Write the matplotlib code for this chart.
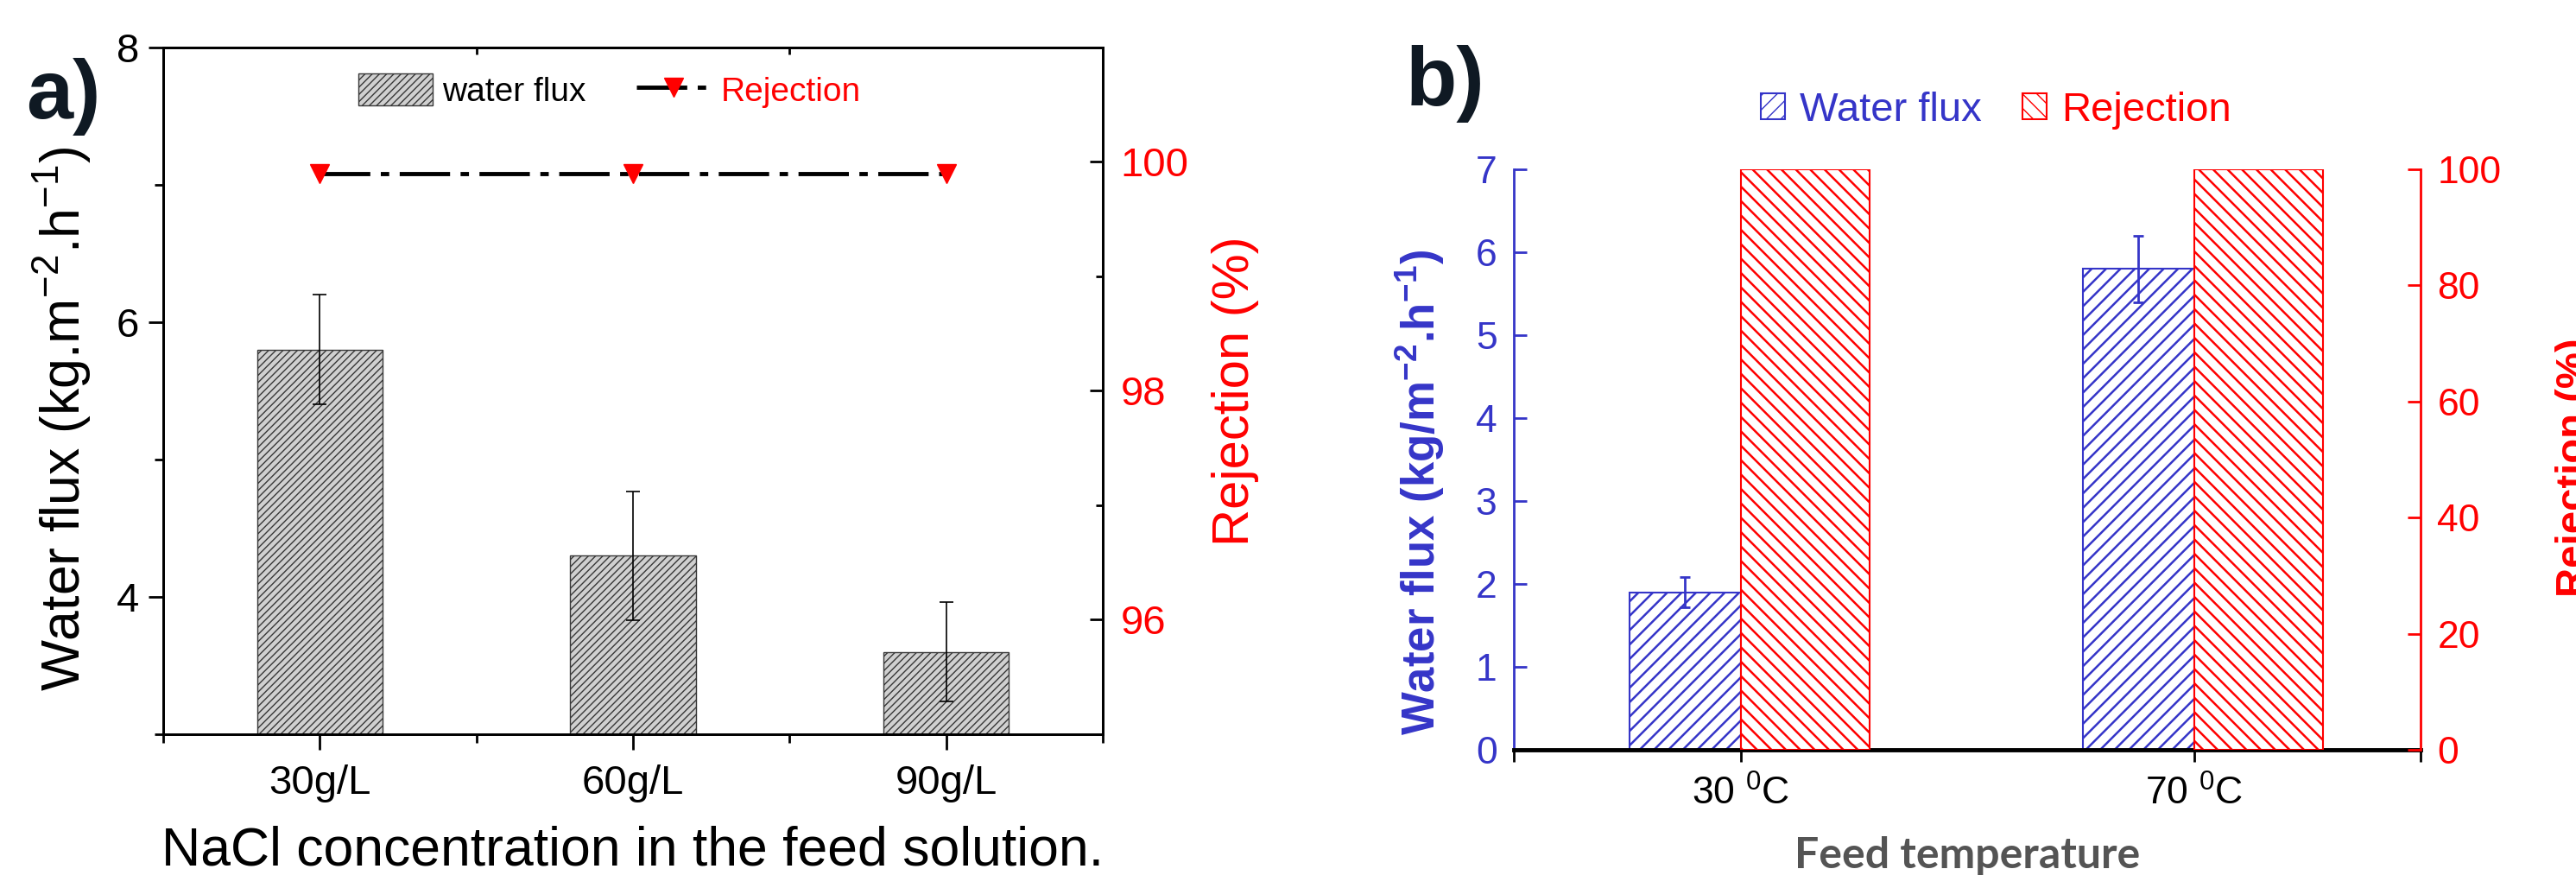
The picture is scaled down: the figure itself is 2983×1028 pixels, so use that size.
import numpy as np
import matplotlib
matplotlib.use("Agg")
import matplotlib.pyplot as plt
from matplotlib.ticker import FixedLocator

plt.rcParams['font.family'] = ['Liberation Sans', 'DejaVu Sans']
plt.rcParams['mathtext.fontset'] = 'custom'
plt.rcParams['mathtext.rm'] = 'Liberation Sans'
plt.rcParams['mathtext.bf'] = 'Liberation Sans:bold'
plt.rcParams['hatch.linewidth'] = 1.0

# panel a) - effect of NaCl concentration
konc = ['30g/L', '60g/L', '90g/L']
flux_a = [5.8, 4.3, 3.6]
flux_a_err = [0.4, 0.47, 0.36]
rej_a = [99.9, 99.9, 99.9]

# panel b) - effect of feed temperature
temp = ['30 $\\mathregular{^0}$C', '70 $\\mathregular{^0}$C']
flux_b = [1.9, 5.8]
flux_b_err = [0.18, 0.4]
rej_b = [100, 100]

BLUE = '#3535c8'
RED = '#ff0000'
W, H = 2983, 1028

fig = plt.figure(figsize=(W / 100, H / 100), dpi=100)


def px_box(l, r, t, b):
    return [l / W, 1 - b / H, (r - l) / W, (b - t) / H]


# ---------------- a) ----------------
ax = fig.add_axes(px_box(189, 1277, 55, 850))
ax2 = ax.twinx()
xa = np.arange(1, len(konc) + 1)

slupki = ax.bar(xa, flux_a, width=0.4, color='#d0d0d0', edgecolor='#383838',
                hatch='////', linewidth=1, yerr=flux_a_err,
                error_kw=dict(ecolor='black', elinewidth=1.2, capsize=6, capthick=1.2))
linia, = ax2.plot(xa, rej_a, color='black', lw=3.5, ls=(0, (12, 2.5, 2, 2.5)),
                  marker='v', ms=16, mfc=RED, mec=RED)

ax.set_xlim(0.5, 3.5)
ax.set_ylim(3, 8)
ax2.set_ylim(95, 101)
ax.set_xticks(xa)
ax.set_xticklabels(konc, fontsize=34)
ax.xaxis.set_minor_locator(FixedLocator([0.5, 1.5, 2.5, 3.5]))
ax.set_yticks([4, 6, 8])
ax.yaxis.set_minor_locator(FixedLocator([3, 5, 7]))
ax.tick_params(axis='y', which='major', direction='out', length=12, width=2, labelsize=34, pad=8)
ax.tick_params(axis='y', which='minor', direction='out', length=7, width=2)
ax.tick_params(axis='x', which='major', direction='out', length=13, width=2, pad=12)
ax.tick_params(axis='x', which='minor', direction='out', length=7, width=2)

gora = ax.secondary_xaxis('top')
gora.set_xticks([1.5, 2.5])
gora.set_xticklabels([])
gora.tick_params(direction='in', length=6, width=2)
gora.spines['top'].set_linewidth(2)

ax2.set_yticks([96, 98, 100])
ax2.yaxis.set_minor_locator(FixedLocator([95, 97, 99]))
ax2.tick_params(axis='y', which='major', direction='in', length=11, width=2,
                labelsize=34, labelcolor=RED, pad=15)
ax2.tick_params(axis='y', which='minor', direction='in', length=6, width=2)
for s in ax.spines.values():
    s.set_linewidth(2)
for s in ax2.spines.values():
    s.set_linewidth(2)

ax.set_ylabel('Water flux (kg.m$\\mathregular{^{-2}}$.h$\\mathregular{^{-1}}$)', fontsize=45)
ax.yaxis.set_label_coords(-0.0745, 0.459)
ax2.set_ylabel('Rejection (%)', fontsize=43, color=RED)
ax2.yaxis.set_label_coords(1.116, 0.5)
ax.set_xlabel('NaCl concentration in the feed solution.', fontsize=45, va='center')
ax.xaxis.set_label_coords(0.5, -0.17)

leg = ax2.legend([slupki, linia], ['water flux', 'Rejection'], fontsize=28, frameon=False,
                 ncol=2, loc='center left', bbox_to_anchor=(415 / W, 1 - 105 / H),
                 bbox_transform=fig.transFigure, borderpad=0, borderaxespad=0,
                 handlelength=2.2, handleheight=1.1, handletextpad=0.3, columnspacing=1.5)
leg.get_texts()[1].set_color(RED)

fig.text(30 / W, 1 - 112 / H, 'a)', fontsize=70, fontweight='bold', color='#0f1923',
         ha='left', va='center')

# ---------------- b) ----------------
bx = fig.add_axes(px_box(1753, 2803, 196, 868))
bx2 = bx.twinx()
xb = np.arange(1, len(temp) + 1)

niebieskie = bx.bar(xb, flux_b, width=-0.245, align='edge', color='white', edgecolor=BLUE,
                    hatch='//', linewidth=1.5, yerr=flux_b_err,
                    error_kw=dict(ecolor=BLUE, elinewidth=2, capsize=4, capthick=2))
czerwone = bx2.bar(xb, rej_b, width=0.285, align='edge', color='white', edgecolor=RED,
                   hatch='\\\\', linewidth=1.5)
for p in list(niebieskie) + list(czerwone):
    if hasattr(p, 'set_hatch_linewidth'):
        p.set_hatch_linewidth(1.8)

bx.set_xlim(0.5, 2.5)
bx.set_ylim(0, 7)
bx2.set_ylim(0, 100)
bx.set_xticks(xb)
bx.set_xticklabels(temp, fontsize=32)
bx.xaxis.set_minor_locator(FixedLocator([0.5, 2.5]))
bx.tick_params(axis='x', which='both', direction='out', length=10, width=2, pad=11)
bx.set_yticks(range(0, 8))
bx.tick_params(axis='y', direction='in', length=11, width=2, color=BLUE,
               labelcolor=BLUE, labelsize=32, pad=14)
bx2.set_yticks(range(0, 101, 20))
bx2.tick_params(axis='y', direction='in', length=11, width=2, color=RED,
                labelcolor=RED, labelsize=32, pad=14)

for a_ in (bx, bx2):
    a_.spines['top'].set_visible(False)
bx.spines['right'].set_visible(False)
bx2.spines['left'].set_visible(False)
bx2.spines['bottom'].set_visible(False)
bx.spines['left'].set_color(BLUE)
bx.spines['left'].set_linewidth(2)
bx2.spines['right'].set_color(RED)
bx2.spines['right'].set_linewidth(2)
bx.spines['bottom'].set_linewidth(3.5)

bx.set_ylabel('Water flux (kg/m$\\mathbf{^{-2}}$.h$\\mathbf{^{-1}}$)', fontsize=38,
              fontweight='bold', color=BLUE)
bx.yaxis.set_label_coords(-0.074, 0.443)
bx2.set_ylabel('Rejection (%)', fontsize=34, fontweight='bold', color=RED)
bx2.yaxis.set_label_coords(1.149, 0.487)
bx.set_xlabel('Feed temperature', fontsize=36, fontweight='bold', color='#545454',
              family=['Lato', 'Open Sans', 'DejaVu Sans'], va='center')
bx.xaxis.set_label_coords(0.5, -0.182)

legb = bx2.legend([niebieskie, czerwone], ['Water flux', 'Rejection'], fontsize=34,
                  frameon=False, ncol=2, loc='center left',
                  bbox_to_anchor=(2039 / W, 1 - 128 / H), bbox_transform=fig.transFigure,
                  borderpad=0, borderaxespad=0, handlelength=0.6, handleheight=0.6,
                  handletextpad=0.35, columnspacing=1.0)
legb.get_texts()[0].set_color(BLUE)
legb.get_texts()[1].set_color(RED)

fig.text(1628 / W, 1 - 97 / H, 'b)', fontsize=70, fontweight='bold', color='#0f1923',
         ha='left', va='center')

fig.savefig('out.png', dpi=100)
